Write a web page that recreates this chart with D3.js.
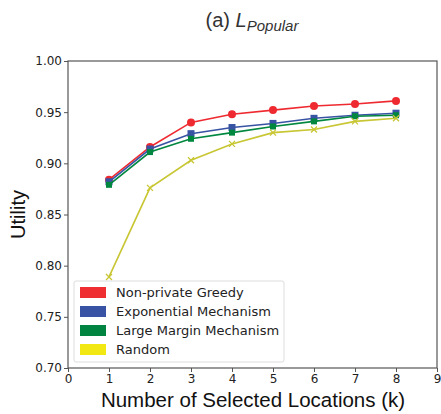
<!DOCTYPE html>
<html>
<head>
<meta charset="utf-8">
<script src="https://cdnjs.cloudflare.com/ajax/libs/d3/7.8.5/d3.min.js"></script>
<style>
  body { margin: 0; background: #fff; }
  svg { display: block; }
  .tick text { font-family: "DejaVu Sans", sans-serif; font-size: 12px; fill: #222; }
</style>
</head>
<body>
<svg width="441" height="414"></svg>
<script>
// data
const ks = [1, 2, 3, 4, 5, 6, 7, 8];
const greedy = [0.884, 0.916, 0.940, 0.948, 0.952, 0.956, 0.958, 0.961];
const expMech = [0.882, 0.914, 0.929, 0.935, 0.939, 0.944, 0.947, 0.949];
const largeMargin = [0.879, 0.911, 0.924, 0.930, 0.936, 0.941, 0.946, 0.947];
const random = [0.789, 0.876, 0.903, 0.919, 0.930, 0.933, 0.941, 0.944];
const seriesNames = ["Non-private Greedy", "Exponential Mechanism", "Large Margin Mechanism", "Random"];
const xTicks = [0, 1, 2, 3, 4, 5, 6, 7, 8, 9];
const yTicks = [0.70, 0.75, 0.80, 0.85, 0.90, 0.95, 1.00];

const svg = d3.select("svg");
const margin = { left: 68, right: 4, top: 61, bottom: 46 };
const width = +svg.attr("width");
const height = +svg.attr("height");

const x = d3.scaleLinear().domain([0, 9]).range([margin.left, width - margin.right]);
const y = d3.scaleLinear().domain([0.70, 1.00]).range([height - margin.bottom, margin.top]);

// series styles
const series = [
  { name: seriesNames[0], values: greedy, line: "#ee2a30", patch: "#ee2e31", marker: "circle" },
  { name: seriesNames[1], values: expMech, line: "#3953a4", patch: "#3953a4", marker: "square" },
  { name: seriesNames[2], values: largeMargin, line: "#00873f", patch: "#00843f", marker: "triangle" },
  { name: seriesNames[3], values: random, line: "#c8c632", patch: "#f2e813", marker: "x" }
];

// frame
svg.append("rect")
  .attr("x", x(0)).attr("y", y(1))
  .attr("width", x(9) - x(0)).attr("height", y(0.7) - y(1))
  .attr("fill", "none").attr("stroke", "#555").attr("stroke-width", 1.2);

// axes
const xAxis = svg.append("g")
  .attr("transform", `translate(0,${y(0.7)})`)
  .call(d3.axisBottom(x).tickValues(xTicks).tickFormat(d3.format("d")).tickSize(4).tickPadding(2));
const yAxis = svg.append("g")
  .attr("transform", `translate(${x(0)},0)`)
  .call(d3.axisLeft(y).tickValues(yTicks).tickFormat(d3.format(".2f")).tickSize(4).tickPadding(2));
[xAxis, yAxis].forEach(a => {
  a.select(".domain").remove();
  a.selectAll(".tick line").attr("stroke", "#555");
});

// lines
const line = d3.line().x((d, i) => x(ks[i])).y(d => y(d));
series.forEach(s => {
  svg.append("path")
    .datum(s.values)
    .attr("fill", "none")
    .attr("stroke", s.line)
    .attr("stroke-width", 1.6)
    .attr("d", line);

  const g = svg.append("g").selectAll("g")
    .data(s.values)
    .enter().append("g")
    .attr("transform", (d, i) => `translate(${x(ks[i])},${y(d)})`);

  if (s.marker === "circle") {
    g.append("circle").attr("r", 4).attr("fill", s.line);
  } else if (s.marker === "square") {
    g.append("rect").attr("x", -3.5).attr("y", -3.5).attr("width", 7).attr("height", 7).attr("fill", s.line);
  } else if (s.marker === "triangle") {
    g.append("path").attr("d", d3.symbol().type(d3.symbolSquare).size(36)).attr("fill", s.line);
  } else {
    g.append("path").attr("d", "M-3,-3L3,3M-3,3L3,-3").attr("stroke", s.line).attr("stroke-width", 1.3);
  }
});

// legend
const legend = svg.append("g").attr("transform", "translate(74,281)");
legend.append("rect")
  .attr("width", 210).attr("height", 81).attr("rx", 2)
  .attr("fill", "#fff").attr("fill-opacity", 0.85)
  .attr("stroke", "#ddd");
const item = legend.selectAll(".item")
  .data(series)
  .enter().append("g")
  .attr("transform", (d, i) => `translate(6,${5 + i * 19})`);
item.append("rect")
  .attr("width", 26).attr("height", 11).attr("y", 1)
  .attr("fill", d => d.patch);
item.append("text")
  .attr("x", 36).attr("y", 11)
  .attr("font-family", "DejaVu Sans, sans-serif").attr("font-size", 13)
  .attr("fill", "#222")
  .text(d => d.name);

// title
const title = svg.append("text")
  .attr("x", 252).attr("y", 27)
  .attr("text-anchor", "middle")
  .attr("font-family", "Liberation Sans, Arial, sans-serif")
  .attr("font-size", 20).attr("fill", "#333");
title.append("tspan").text("(a) ");
title.append("tspan").attr("font-style", "italic").text("L");
title.append("tspan").attr("font-style", "italic").attr("font-size", 15).attr("dy", 4).text("Popular");

// axis labels
svg.append("text")
  .attr("x", 253).attr("y", 407)
  .attr("text-anchor", "middle")
  .attr("font-family", "Liberation Sans, Arial, sans-serif")
  .attr("font-size", 20.5).attr("fill", "#111")
  .text("Number of Selected Locations (k)");
svg.append("text")
  .attr("transform", `translate(25,${(y(0.7) + y(1)) / 2}) rotate(-90)`)
  .attr("text-anchor", "middle")
  .attr("font-family", "Liberation Sans, Arial, sans-serif")
  .attr("font-size", 20).attr("fill", "#111")
  .text("Utility");
</script>
</body>
</html>
